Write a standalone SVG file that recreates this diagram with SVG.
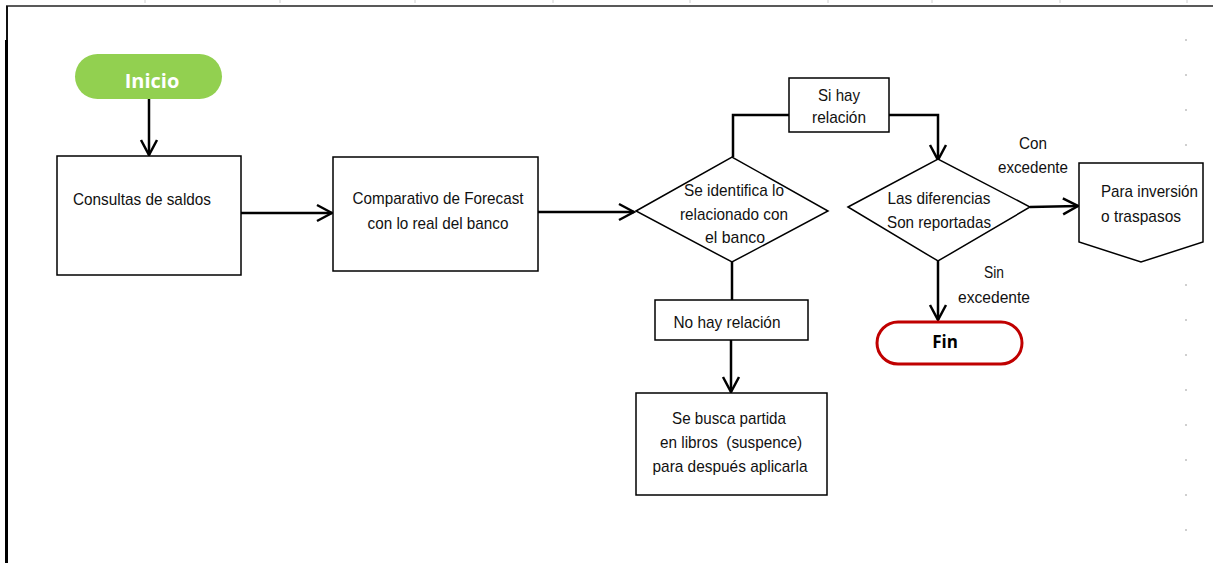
<svg xmlns="http://www.w3.org/2000/svg" width="1214" height="563" viewBox="0 0 1214 563">
  <defs>
    <marker id="arrow" viewBox="0 0 20 20" refX="18" refY="10" markerWidth="20" markerHeight="20" markerUnits="userSpaceOnUse" orient="auto">
      <polyline points="3,2 18,10 3,18" fill="none" stroke="#000" stroke-width="2.5"/>
    </marker>
    <linearGradient id="fade" x1="0" y1="0" x2="0" y2="1">
      <stop offset="0" stop-color="#222"/>
      <stop offset="1" stop-color="#ccc"/>
    </linearGradient>
    <style>
      .box { fill: #fff; stroke: #000; stroke-width: 1.5; }
      .txt { font-family: "Liberation Sans", Arial, sans-serif; font-size: 17px; fill: #111; }
      .mid { text-anchor: middle; }
      .conn { fill: none; stroke: #000; stroke-width: 2.5; }
      .tick { stroke: #d0d0d0; stroke-width: 1; }
      .dot { fill: #cfcfcf; }
    </style>
  </defs>

  <rect width="1214" height="563" fill="#fff"/>

  <!-- page frame -->
  <g id="frame">
    <line x1="6" y1="6" x2="1213" y2="6" stroke="#222" stroke-width="1.5"/>
    <line x1="7" y1="6" x2="7" y2="563" stroke="#111" stroke-width="2"/>
    <line x1="6.5" y1="40" x2="6.5" y2="563" stroke="#000" stroke-width="3"/>
    <line x1="1213" y1="6" x2="1213" y2="140" stroke="url(#fade)" stroke-width="1.5"/>
    <g class="tick">
      <line x1="145" y1="0" x2="145" y2="3"/>
      <line x1="280" y1="0" x2="280" y2="3"/>
      <line x1="415" y1="0" x2="415" y2="3"/>
      <line x1="553" y1="0" x2="553" y2="3"/>
      <line x1="690" y1="0" x2="690" y2="3"/>
      <line x1="828" y1="0" x2="828" y2="3"/>
      <line x1="932" y1="0" x2="932" y2="3"/>
      <line x1="1060" y1="0" x2="1060" y2="3"/>
      <line x1="1187" y1="0" x2="1187" y2="3"/>
    </g>
    <g class="dot">
      <rect x="1185" y="39" width="2" height="2"/>
      <rect x="1185" y="74" width="2" height="2"/>
      <rect x="1185" y="109" width="2" height="2"/>
      <rect x="1185" y="144" width="2" height="2"/>
      <rect x="1185" y="284" width="2" height="2"/>
      <rect x="1185" y="319" width="2" height="2"/>
      <rect x="1185" y="354" width="2" height="2"/>
      <rect x="1185" y="389" width="2" height="2"/>
      <rect x="1185" y="424" width="2" height="2"/>
      <rect x="1185" y="459" width="2" height="2"/>
      <rect x="1185" y="494" width="2" height="2"/>
      <rect x="1185" y="529" width="2" height="2"/>
    </g>
  </g>

  <!-- connectors -->
  <g id="connectors">
    <line class="conn" x1="149" y1="99" x2="149" y2="155" marker-end="url(#arrow)"/>
    <line class="conn" x1="241" y1="213" x2="332" y2="213" marker-end="url(#arrow)"/>
    <line class="conn" x1="538" y1="212" x2="634" y2="212" marker-end="url(#arrow)"/>
    <polyline class="conn" points="733,157 733,115 789,115"/>
    <polyline class="conn" points="889,115 938,115 938,160" marker-end="url(#arrow)"/>
    <line class="conn" x1="1030" y1="207" x2="1078" y2="206" marker-end="url(#arrow)"/>
    <line class="conn" x1="938" y1="261" x2="938" y2="320" marker-end="url(#arrow)"/>
    <line class="conn" x1="732" y1="262" x2="732" y2="300"/>
    <line class="conn" x1="731" y1="340" x2="731" y2="392" marker-end="url(#arrow)"/>
  </g>

  <!-- start terminator -->
  <g id="inicio">
    <rect x="75" y="54" width="147" height="45" rx="22.5" fill="#92D050"/>
    <text x="152" y="88" text-anchor="middle" font-family="'Open Sans', 'Liberation Sans', sans-serif" font-size="20" font-weight="bold" fill="#fff">Inicio</text>
  </g>

  <g id="consultas">
    <rect class="box" x="57" y="156" width="184" height="119"/>
    <text class="txt" x="73" y="205" textLength="138" lengthAdjust="spacingAndGlyphs">Consultas de saldos</text>
  </g>

  <g id="comparativo">
    <rect class="box" x="333" y="157" width="205" height="114"/>
    <text class="txt mid" x="438" y="204" textLength="171" lengthAdjust="spacingAndGlyphs">Comparativo de Forecast</text>
    <text class="txt mid" x="438" y="229" textLength="141" lengthAdjust="spacingAndGlyphs">con lo real del banco</text>
  </g>

  <g id="identifica">
    <polygon class="box" points="636,211 732,157 828,211 732,262"/>
    <text class="txt mid" x="734" y="196" textLength="100" lengthAdjust="spacingAndGlyphs">Se identifica lo</text>
    <text class="txt mid" x="734" y="220" textLength="108" lengthAdjust="spacingAndGlyphs">relacionado con</text>
    <text class="txt mid" x="735" y="243" textLength="60" lengthAdjust="spacingAndGlyphs">el banco</text>
  </g>

  <g id="si-hay">
    <rect class="box" x="789" y="78" width="100" height="54"/>
    <text class="txt mid" x="839" y="101" textLength="42" lengthAdjust="spacingAndGlyphs">Si hay</text>
    <text class="txt mid" x="839" y="123" textLength="54" lengthAdjust="spacingAndGlyphs">relación</text>
  </g>

  <g id="diferencias">
    <polygon class="box" points="848,207 938,159 1030,207 938,261"/>
    <text class="txt mid" x="939" y="204" textLength="103" lengthAdjust="spacingAndGlyphs">Las diferencias</text>
    <text class="txt mid" x="939" y="228" textLength="104" lengthAdjust="spacingAndGlyphs">Son reportadas</text>
  </g>

  <g id="con-excedente">
    <text class="txt mid" x="1033" y="149" textLength="28" lengthAdjust="spacingAndGlyphs">Con</text>
    <text class="txt mid" x="1033" y="173" textLength="70" lengthAdjust="spacingAndGlyphs">excedente</text>
  </g>

  <g id="inversion">
    <polygon class="box" points="1079,163 1203,163 1203,242 1141,262 1079,242"/>
    <text class="txt" x="1101" y="197" textLength="97" lengthAdjust="spacingAndGlyphs">Para inversión</text>
    <text class="txt" x="1101" y="222" textLength="80" lengthAdjust="spacingAndGlyphs">o traspasos</text>
  </g>

  <g id="sin-excedente">
    <text class="txt mid" x="994" y="278" textLength="20" lengthAdjust="spacingAndGlyphs">Sin</text>
    <text class="txt mid" x="994" y="303" textLength="72" lengthAdjust="spacingAndGlyphs">excedente</text>
  </g>

  <g id="fin">
    <rect x="877" y="322" width="145" height="42" rx="21" fill="#fff" stroke="#C00000" stroke-width="3"/>
    <text x="945" y="348" text-anchor="middle" font-family="'Open Sans', 'Liberation Sans', sans-serif" font-size="17" font-weight="bold" fill="#000">Fin</text>
  </g>

  <g id="no-hay">
    <rect class="box" x="655" y="300" width="153" height="40"/>
    <text class="txt mid" x="727" y="328" textLength="107" lengthAdjust="spacingAndGlyphs">No hay relación</text>
  </g>

  <g id="busca">
    <rect class="box" x="636" y="393" width="191" height="102"/>
    <text class="txt mid" x="729" y="424" textLength="114" lengthAdjust="spacingAndGlyphs">Se busca partida</text>
    <text class="txt mid" x="731" y="448" textLength="142" lengthAdjust="spacingAndGlyphs" xml:space="preserve">en libros  (suspence)</text>
    <text class="txt mid" x="730" y="472" textLength="155" lengthAdjust="spacingAndGlyphs">para después aplicarla</text>
  </g>
</svg>
